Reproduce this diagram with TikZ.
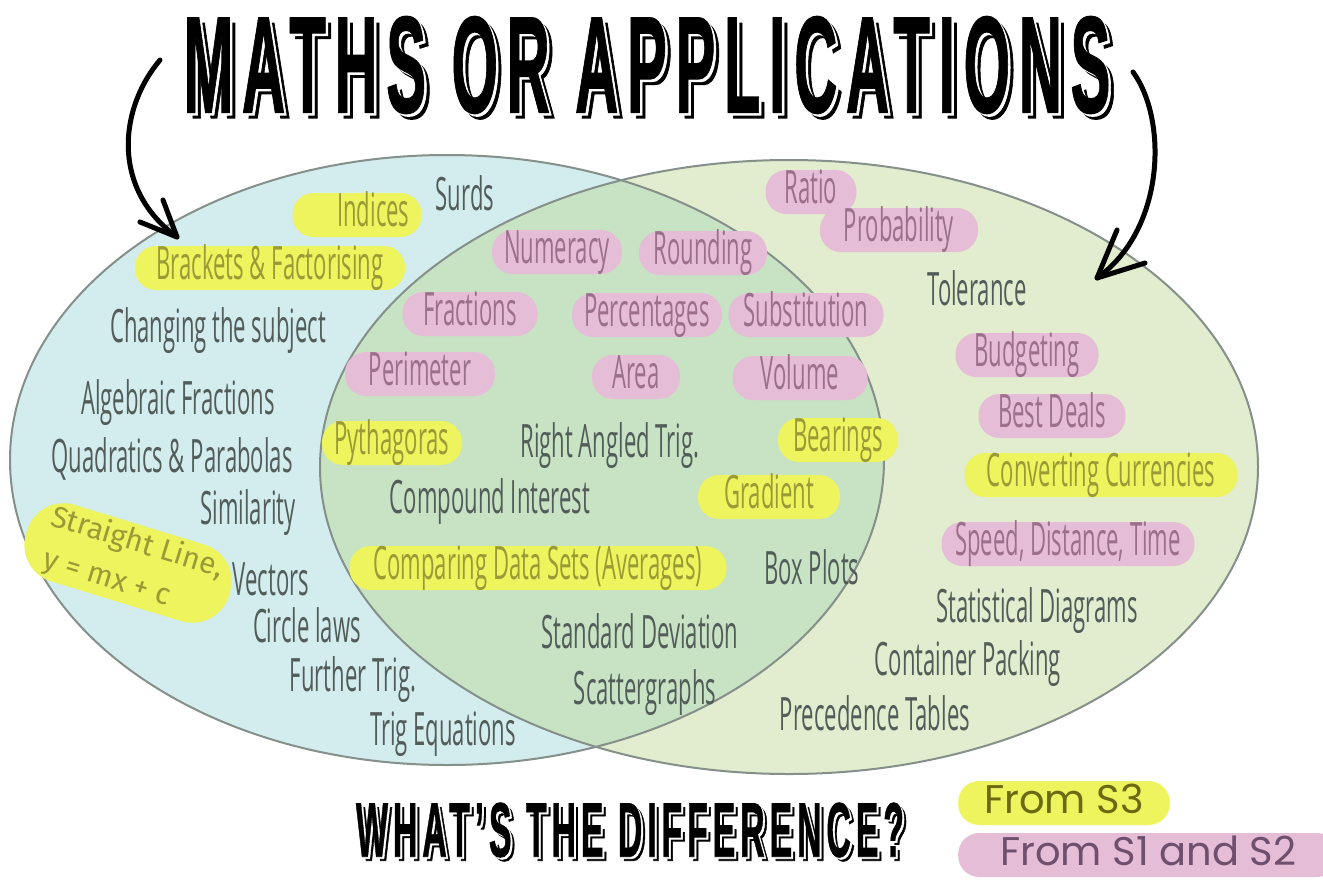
\documentclass[tikz,border=0pt]{standalone}
\usepackage{fontspec}
\usepackage{graphicx}
\newfontfamily\handfont[FakeStretch=0.48]{Open Sans}
\newfontfamily\heavyfont[LetterSpace=14, FakeBold=1]{Liberation Sans}
\newfontfamily\legfont{Poppins}
\newfontfamily\blobfont{Fira Sans}
\definecolor{bluefill}{HTML}{D3ECEE}
\definecolor{rightfill}{HTML}{E2ECCE}
\definecolor{lensfill}{HTML}{C8E2C4}
\definecolor{bordc}{HTML}{85908A}
\definecolor{hly}{HTML}{EEF45E}
\definecolor{hlp}{HTML}{E6BDD6}
\definecolor{txtc}{HTML}{525D59}
\definecolor{ytxt}{HTML}{9A9A36}
\definecolor{ptxt}{HTML}{9C6F8C}
\definecolor{legy}{HTML}{6B6A12}
\definecolor{legp}{HTML}{6E4F6E}
\newcommand{\bigtitle}{\resizebox{927pt}{96pt}{\heavyfont\bfseries MATHS OR APPLICATIONS}}
\newcommand{\subtitle}{\resizebox{548pt}{54pt}{\heavyfont\bfseries WHAT’S THE DIFFERENCE?}}
\tikzset{
  lbl/.style={font=\handfont\fontsize{46}{50}\selectfont, text=txtc, inner sep=0pt, anchor=base},
  hl/.style={font=\handfont\fontsize{46}{50}\selectfont, inner xsep=12pt, inner ysep=0pt,
     text height=33pt, text depth=11pt, minimum height=44pt, rounded corners=21pt},
  hy/.style={hl, fill=hly, text=ytxt},
  hp/.style={hl, fill=hlp, text=ptxt},
  venn/.style={draw=bordc, line width=2pt},
  arr/.style={line width=5pt, line cap=round, line join=round, black},
  blob/.style={font=\blobfont\fontsize{30}{34}\selectfont, text=ytxt, inner sep=0pt},
  ttl/.style={inner sep=0pt},
  leg/.style={font=\legfont\fontsize{40}{44}\selectfont, inner xsep=26pt, inner ysep=0pt,
     text height=31pt, text depth=11pt, minimum height=44pt, rounded corners=21pt, anchor=west},
}
\begin{document}
\begin{tikzpicture}[x=1pt, y=-1pt]
\useasboundingbox (0,0) rectangle (1323,879);
\clip (0,0) rectangle (1323,879);
\fill[white] (0,0) rectangle (1323,879);

% Venn circles
\fill[bluefill] (447,460) ellipse [x radius=437pt, y radius=305pt];
\fill[rightfill] (789,467) ellipse [x radius=469pt, y radius=307pt];
\begin{scope}
  \clip (447,460) ellipse [x radius=437pt, y radius=305pt];
  \fill[lensfill] (789,467) ellipse [x radius=469pt, y radius=307pt];
\end{scope}
\draw[venn] (447,460) ellipse [x radius=437pt, y radius=305pt];
\draw[venn] (789,467) ellipse [x radius=469pt, y radius=307pt];

% Title
\node[ttl, text=black] (titleshadow) at (652.5,70.5) {\bigtitle};
\node[ttl, text=white] (titlegap) at (649.5,67.5) {\bigtitle};
\node[ttl, text=black] (title) at (647,65) {\bigtitle};

% Arrows
\coordinate (la0) at (160,60);
\coordinate (latip) at (177,237);
\coordinate (la1) at (140,222);
\coordinate (la2) at (163,200);
\draw[arr] (la0) .. controls (118,110) and (112,190) .. (latip);
\draw[arr] (la1) -- (latip) -- (la2);
\coordinate (ra0) at (1133,72);
\coordinate (ratip) at (1097,278);
\coordinate (ra1) at (1117,230);
\coordinate (ra2) at (1145,263);
\draw[arr] (ra0) .. controls (1168,120) and (1165,230) .. (ratip);
\draw[arr] (ra1) -- (ratip) -- (ra2);

% Left only
\node[lbl] (surds) at (465,210) {Surds};
\node[hy, minimum width=129pt, text width=105pt, align=right] (indices) at (357,215) {Indices};
\node[hy, minimum width=270pt] (brackets) at (270,268) {Brackets \& Factorising};
\node[lbl] (changing) at (218,342) {Changing the subject};
\node[lbl] (algfrac) at (178,414) {Algebraic Fractions};
\node[lbl] (quad) at (172,472) {Quadratics \& Parabolas};
\node[lbl] (similarity) at (248,524) {Similarity};
\node[fill=hly, rotate=-17, rounded corners=38pt, minimum width=212pt, minimum height=80pt, inner sep=0pt] (slbg) at (128,563) {};
\node[blob, rotate=-17] (sl1) at (137,543) {Straight Line,};
\node[blob, rotate=-17] (sl2) at (106,582) {y = mx + c};
\node[lbl] (vectors) at (271,595) {Vectors};
\node[lbl] (circle) at (307,642) {Circle laws};
\node[lbl] (further) at (353,691) {Further Trig.};
\node[lbl] (trigeq) at (443,745) {Trig Equations};

% Intersection
\node[hp, minimum width=130pt] (numeracy) at (557,252) {Numeracy};
\node[hp, minimum width=128pt] (rounding) at (703,253) {Rounding};
\node[hp, minimum width=135pt] (fractions) at (470,314) {Fractions};
\node[hp, minimum width=145pt] (percent) at (647,315) {Percentages};
\node[hp, minimum width=155pt] (subst) at (806,315) {Substitution};
\node[hp, minimum width=150pt] (perimeter) at (420,374) {Perimeter};
\node[hp, minimum width=88pt] (area) at (636,377) {Area};
\node[hp, minimum width=135pt] (volume) at (800,378) {Volume};
\node[hy, minimum width=140pt] (pyth) at (392,443) {Pythagoras};
\node[lbl] (rat) at (610,457) {Right Angled Trig.};
\node[hy, minimum width=120pt] (bearings) at (838,440) {Bearings};
\node[lbl] (compound) at (490,513) {Compound Interest};
\node[hy, minimum width=142pt] (gradient) at (769,497) {Gradient};
\node[hy, minimum width=377pt] (comparing) at (538,568) {Comparing Data Sets (Averages)};
\node[lbl] (boxplots) at (812,584) {Box Plots};
\node[lbl] (stddev) at (640,648) {Standard Deviation};
\node[lbl] (scatter) at (645,704) {Scattergraphs};

% Right only
\node[hp, minimum width=91pt] (ratio) at (811,192) {Ratio};
\node[hp, minimum width=158pt] (prob) at (899,230) {Probability};
\node[lbl] (tolerance) at (977,305) {Tolerance};
\node[hp, minimum width=143pt] (budget) at (1027,355) {Budgeting};
\node[hp, minimum width=147pt] (bestdeals) at (1052,416) {Best Deals};
\node[hy, minimum width=273pt] (convert) at (1101,475) {Converting Currencies};
\node[hp, minimum width=253pt] (speed) at (1068,544) {Speed, Distance, Time};
\node[lbl] (statdiag) at (1037,622) {Statistical Diagrams};
\node[lbl] (container) at (968,675) {Container Packing};
\node[lbl] (precedence) at (875,730) {Precedence Tables};

% Bottom title
\node[ttl, text=black] (subshadow) at (634,834) {\subtitle};
\node[ttl, text=white] (subgap) at (632,832) {\subtitle};
\node[ttl, text=black] (sub) at (630,830) {\subtitle};

% Legend
\node[leg, fill=hly, text=legy, minimum width=207pt] (legs3) at (958,803) {From S3};
\node[leg, fill=hlp, text=legp, minimum width=380pt] (legs12) at (958,855) {From S1 and S2};
\end{tikzpicture}
\end{document}
